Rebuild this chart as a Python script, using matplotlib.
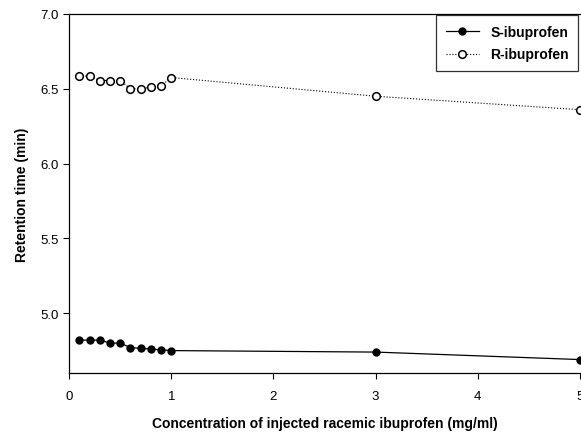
import matplotlib
matplotlib.use("Agg")
import matplotlib.pyplot as plt

plt.rcParams['font.family'] = ['Liberation Sans', 'DejaVu Sans']

conc = [0.1, 0.2, 0.3, 0.4, 0.5, 0.6, 0.7, 0.8, 0.9, 1.0, 3.0, 5.0]
s_ibuprofen = [4.82, 4.82, 4.82, 4.80, 4.80, 4.77, 4.765, 4.76, 4.755, 4.75, 4.74, 4.69]
r_ibuprofen = [6.585, 6.585, 6.555, 6.555, 6.555, 6.50, 6.50, 6.51, 6.52, 6.575, 6.45, 6.36]

x_ticks = [0, 1, 2, 3, 4, 5]
y_ticks = [5.0, 5.5, 6.0, 6.5, 7.0]

fig = plt.figure(figsize=(5.81, 4.39), dpi=100)
ax = fig.add_axes([0.119, 0.148, 0.879, 0.818])

ax.plot(conc, s_ibuprofen, color='black', linewidth=0.9, marker='o',
        markersize=5, markerfacecolor='black', markeredgecolor='black',
        label='S-ibuprofen', clip_on=False)
ax.plot(conc, r_ibuprofen, color='black', linewidth=0.8, linestyle=':',
        marker='o', markersize=5.5, markerfacecolor='white',
        markeredgecolor='black', markeredgewidth=1.1,
        label='R-ibuprofen', clip_on=False)

ax.set_xlim(0, 5)
ax.set_ylim(4.6, 7.0)
ax.set_xticks(x_ticks)
ax.set_xticklabels([str(t) for t in x_ticks])
ax.set_yticks(y_ticks)
ax.set_yticklabels([f"{t:.1f}" for t in y_ticks])
ax.tick_params(axis='both', labelsize=9.5, colors='black', length=4, width=0.8)
ax.tick_params(axis='x', pad=8)

ax.spines['right'].set_visible(False)
for side in ['left', 'bottom', 'top']:
    ax.spines[side].set_linewidth(0.9)

ax.set_xlabel("Concentration of injected racemic ibuprofen (mg/ml)",
              fontsize=10, fontweight='bold', labelpad=10)
ax.set_ylabel("Retention time (min)", fontsize=10, fontweight='bold', labelpad=8)

leg = ax.legend(loc='upper right', frameon=True, fancybox=False,
                edgecolor='black', borderaxespad=0.1, borderpad=0.7,
                handlelength=2.4, labelspacing=0.6,
                prop={'weight': 'bold', 'size': 10})
leg.get_frame().set_linewidth(0.9)

plt.savefig("out.png", dpi=100)
plt.close()
